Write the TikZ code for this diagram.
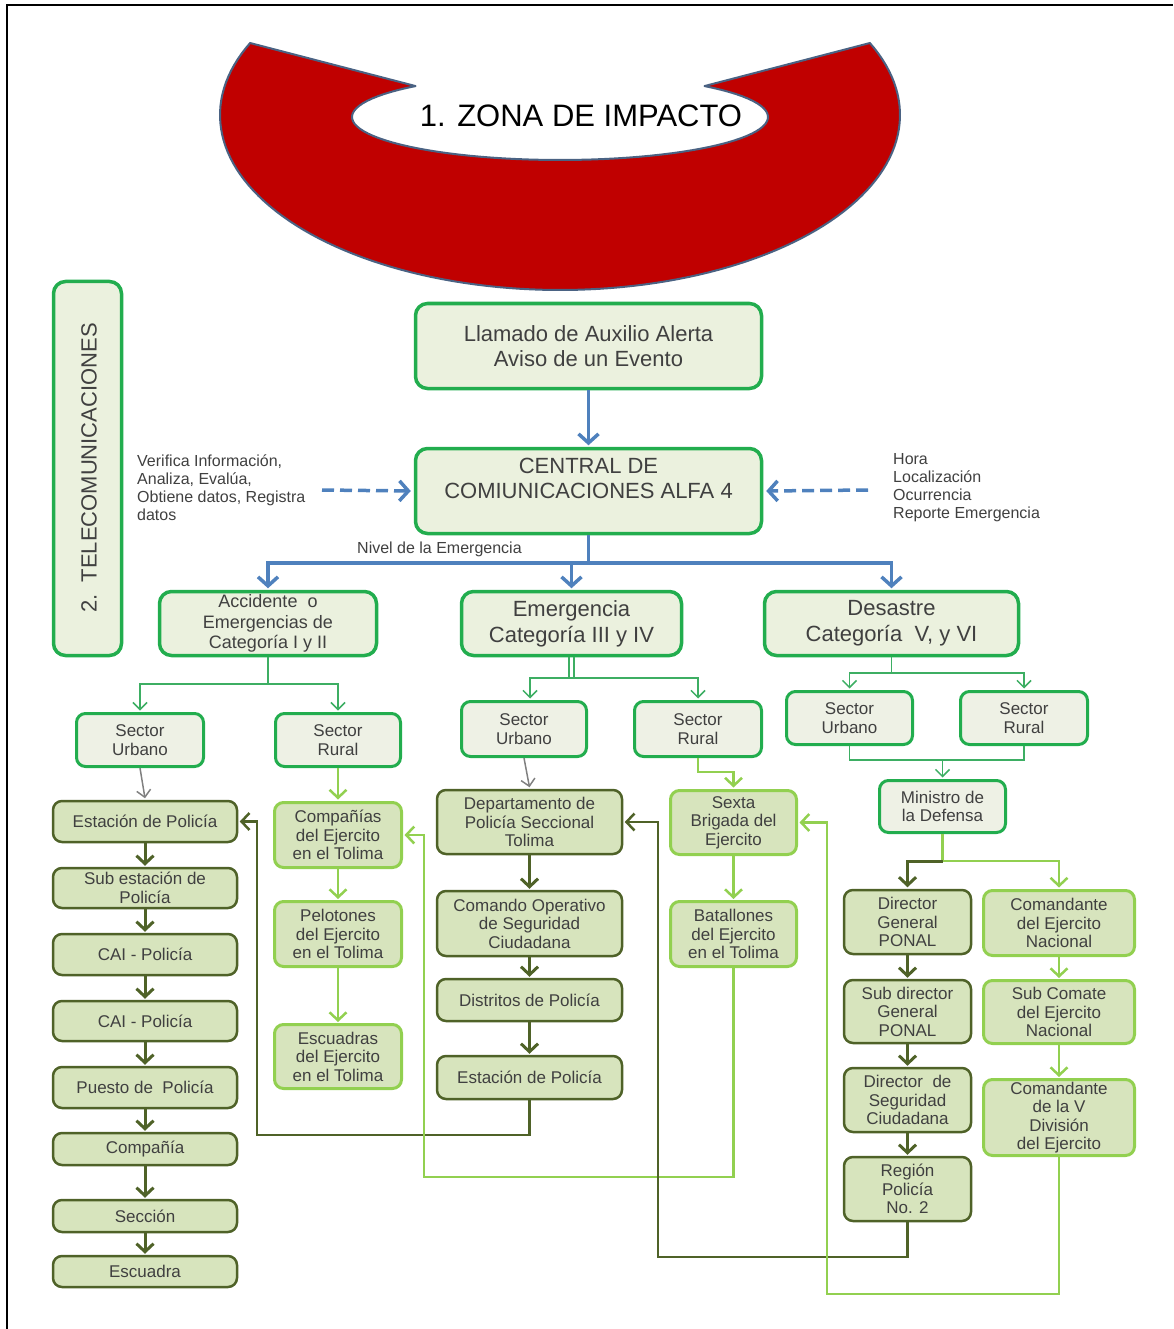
\documentclass[tikz,border=0pt]{standalone}
\usepackage{fontspec}
\setmainfont{Liberation Sans}
\usetikzlibrary{arrows.meta}
\definecolor{gmain}{HTML}{22AD4E}
\definecolor{sgreen}{HTML}{3DAE63}
\definecolor{fmain}{HTML}{EBF1DE}
\definecolor{fsec}{HTML}{EEF1E5}
\definecolor{oliv}{HTML}{4F6228}
\definecolor{lgreen}{HTML}{92D050}
\definecolor{fol}{HTML}{D7E4BD}
\definecolor{txt}{HTML}{404040}
\definecolor{blueA}{HTML}{4F81BD}
\definecolor{redA}{HTML}{C00000}
\definecolor{edgeA}{HTML}{4A6283}
\begin{document}
\begin{tikzpicture}[x=1pt,y=-1pt,
  base/.style={rounded corners=9pt, align=center, inner sep=0pt, text=txt,
    font=\fontsize{17}{18.5}\selectfont},
  gbox/.style={base, draw=gmain, line width=3.5pt, fill=fmain, rounded corners=12pt},
  sbox/.style={base, draw=gmain, line width=3pt, fill=fsec},
  obox/.style={base, draw=oliv, line width=2.5pt, fill=fol},
  lbox/.style={base, draw=lgreen, line width=3pt, fill=fol},
  side/.style={align=left, inner sep=0pt, text=txt, font=\fontsize{16}{18}\selectfont},
  barrow/.style={draw=blueA, line width=3.5pt, -{Straight Barb[length=9pt,width=20pt]}},
  bline/.style={draw=blueA, line width=3.5pt},
  bdash/.style={barrow, dash pattern=on 12pt off 6pt},
  sline/.style={draw=sgreen, line width=1.5pt},
  sarrow/.style={sline, -{Straight Barb[length=7pt,width=14pt]}},
  garrow/.style={draw=gray, line width=1.5pt, -{Straight Barb[length=7pt,width=14pt]}},
  oarrow/.style={draw=oliv, line width=3pt, -{Straight Barb[length=8pt,width=17pt]}},
  larrow/.style={draw=lgreen, line width=2.5pt, -{Straight Barb[length=8pt,width=17pt]}},
  lline/.style={draw=lgreen, line width=2.5pt},
  ofb/.style={draw=oliv, line width=2.5pt, -{Straight Barb[length=8pt,width=17pt]}},
  lfb/.style={draw=lgreen, line width=2.5pt, -{Straight Barb[length=8pt,width=17pt]}}
]
\useasboundingbox (0,0) rectangle (1173,1329);
\draw[line width=2pt] (7,1329) -- (7,5) -- (1173,5);

% red zone shape
\draw[fill=redA, draw=edgeA, line width=2pt, line join=round]
  (250,43) -- plot[domain=226:-46, samples=80] ({560+208*cos(\x)},{117+43*sin(\x)})
  -- (870,43) -- plot[domain=-24.3:204.3, samples=120] ({560+340*cos(\x)},{115+175*sin(\x)}) -- cycle;
\node[font=\fontsize{31}{34}\selectfont, text=black, inner sep=0pt] (zona) at (581,116) {1. ZONA DE IMPACTO};

% telecom
\node[gbox, minimum width=68, minimum height=374] (tele) at (87.5,468.5) {};
\node[rotate=90, text=txt, inner sep=0pt, font=\fontsize{22}{25}\selectfont] (teletxt) at (89,468) {2.\ \ TELECOMUNICACIONES};

% top boxes
\node[gbox, minimum width=346, minimum height=85, font=\fontsize{22}{25}\selectfont] (llam) at (588.5,346) {Llamado de Auxilio Alerta\\Aviso de un Evento};
\node[gbox, minimum width=346, minimum height=85, font=\fontsize{22}{25}\selectfont] (cent) at (588.5,491) {CENTRAL DE\\COMIUNICACIONES ALFA 4\\\mbox{}};

\node[side, anchor=west] (ltxt) at (137,488) {Verifica Información,\\Analiza, Evalúa,\\Obtiene datos, Registra\\datos};
\node[side, anchor=west] (rtxt) at (893,488) {Hora\\Localización\\Ocurrencia\\Reporte Emergencia};
\node[side, anchor=west] (niv) at (357,549) {Nivel de la Emergencia};

% level 2
\node[gbox, minimum width=217, minimum height=64, font=\fontsize{18}{20.5}\selectfont] (acc) at (268,623.5) {Accidente \ o\\Emergencias de\\Categoría I y II};
\node[gbox, minimum width=220, minimum height=64, font=\fontsize{22}{26}\selectfont] (em) at (571.5,623.5) {Emergencia\\Categoría III y IV};
\node[gbox, minimum width=254, minimum height=64, font=\fontsize{22}{26}\selectfont] (des) at (891.5,623.5) {Desastre\\Categoría \ V, y VI};

% sectors
\node[sbox, minimum width=127, minimum height=53] (lsu) at (140,740) {Sector\\Urbano};
\node[sbox, minimum width=125, minimum height=53] (lsr) at (338,740) {Sector\\Rural};
\node[sbox, minimum width=125, minimum height=55] (msu) at (524,729) {Sector\\Urbano};
\node[sbox, minimum width=127, minimum height=55] (msr) at (698,729) {Sector\\Rural};
\node[sbox, minimum width=126, minimum height=53] (rsu) at (849.5,718) {Sector\\Urbano};
\node[sbox, minimum width=127, minimum height=53] (rsr) at (1024,718) {Sector\\Rural};
\node[sbox, minimum width=126, minimum height=52] (mini) at (942.5,806.5) {Ministro de\\la Defensa};

% left police column
\node[obox, minimum width=184, minimum height=41] (e1) at (145,821.5) {Estación de Policía};
\node[obox, minimum width=184, minimum height=40] (e2) at (145,888) {Sub estación de\\Policía};
\node[obox, minimum width=184, minimum height=41] (e3) at (145,954.5) {CAI - Policía};
\node[obox, minimum width=184, minimum height=40] (e4) at (145,1021) {CAI - Policía};
\node[obox, minimum width=184, minimum height=41] (e5) at (145,1087.5) {Puesto de \ Policía};
\node[obox, minimum width=184, minimum height=32] (e6) at (145,1149) {Compañía};
\node[obox, minimum width=184, minimum height=32] (e7) at (145,1216) {Sección};
\node[obox, minimum width=184, minimum height=31] (e8) at (145,1271.5) {Escuadra};

% left army column
\node[lbox, minimum width=127, minimum height=65] (r1) at (338,835) {Compañías\\del Ejercito\\en el Tolima};
\node[lbox, minimum width=127, minimum height=65] (r2) at (338,934) {Pelotones\\del Ejercito\\en el Tolima};
\node[lbox, minimum width=127, minimum height=64] (r3) at (338,1056.5) {Escuadras\\del Ejercito\\en el Tolima};

% middle police column
\node[obox, minimum width=185, minimum height=64] (m1) at (529.5,822) {Departamento de\\Policía Seccional\\Tolima};
\node[obox, minimum width=185, minimum height=65] (m2) at (529.5,923.5) {Comando Operativo\\de Seguridad\\Ciudadana};
\node[obox, minimum width=185, minimum height=42] (m3) at (529.5,1000) {Distritos de Policía};
\node[obox, minimum width=185, minimum height=43] (m4) at (529.5,1077.5) {Estación de Policía};

% middle army column
\node[lbox, minimum width=126, minimum height=64] (s1) at (733.5,822.5) {Sexta\\Brigada del\\Ejercito};
\node[lbox, minimum width=126, minimum height=65] (s2) at (733.5,934) {Batallones\\del Ejercito\\en el Tolima};

% right police column
\node[obox, minimum width=127, minimum height=64] (p1) at (907.5,922) {Director\\General\\PONAL};
\node[obox, minimum width=127, minimum height=63] (p2) at (907.5,1011.5) {Sub director\\General\\PONAL};
\node[obox, minimum width=127, minimum height=64] (p3) at (907.5,1100) {Director \ de\\Seguridad\\Ciudadana};
\node[obox, minimum width=127, minimum height=64] (p4) at (907.5,1189) {Región\\Policía\\No. 2};

% right army column
\node[lbox, minimum width=151, minimum height=65] (a1) at (1059,923) {Comandante\\del Ejercito\\Nacional};
\node[lbox, minimum width=151, minimum height=63] (a2) at (1059,1012) {Sub Comate\\del Ejercito\\Nacional};
\node[lbox, minimum width=151, minimum height=76] (a3) at (1059,1117.5) {Comandante\\de la V\\División\\del Ejercito};

% blue connectors
\draw[barrow] (llam.south) -- ([yshift=1.5pt]cent.north);
\coordinate (ld) at (322,490);
\coordinate (rd) at (868,490);
\draw[bdash] (ld) -- ([xshift=-3pt]cent.west);
\draw[bdash] (rd) -- ([xshift=3pt]cent.east);
\coordinate (bj) at (588.5,563);
\draw[bline] (cent.south) -- (bj);
\draw[barrow] (bj) -| ([yshift=1.5pt]acc.north);
\draw[barrow] (bj) -| ([yshift=1.5pt]em.north);
\draw[barrow] (bj) -| ([yshift=1.5pt]des.north);

% sector splits
\coordinate (aj) at (268,684);
\draw[sline] (acc.south) -- (aj);
\draw[sarrow] (aj) -| ([yshift=1.5pt]lsu.north);
\draw[sarrow] (aj) -| ([yshift=1.5pt]lsr.north);
\draw[sline] ([xshift=-2.5pt]em.south) -- ++(0,21);
\draw[sline] ([xshift=2.5pt]em.south) -- ++(0,21);
\coordinate (ej) at (571.5,678);
\draw[sarrow] (ej) -| ([xshift=6pt,yshift=1.5pt]msu.north);
\draw[sarrow] (ej) -| ([yshift=1.5pt]msr.north);
\coordinate (dj) at (891.5,673);
\draw[sline] (des.south) -- (dj);
\draw[sarrow] (dj) -| ([yshift=1.5pt]rsu.north);
\draw[sarrow] (dj) -| ([yshift=1.5pt]rsr.north);
\coordinate (rj) at (942.5,760);
\draw[sline] (rsu.south) |- (rj);
\draw[sline] (rsr.south) |- (rj);
\draw[sarrow] (rj) -- ([yshift=1.5pt]mini.north);

% sector to columns
\draw[garrow] (lsu.south) -- ([yshift=1.5pt]e1.north);
\draw[larrow] (lsr.south) -- ([yshift=1.5pt]r1.north);
\draw[garrow] (msu.south) -- ([yshift=1.5pt]m1.north);
\draw[larrow] (msr.south) -- ++(0,14) -| ([yshift=1.5pt]s1.north);

% ministro split
\coordinate (mj) at (942.5,861);
\draw[lline] (mini.south) -- (mj);
\draw[oarrow] (mj) -| ([yshift=1.5pt]p1.north);
\draw[larrow] (mj) -| ([yshift=1.5pt]a1.north);

% column arrows
\draw[oarrow] (e1.south) -- ([yshift=1pt]e2.north);
\draw[oarrow] (e2.south) -- ([yshift=1pt]e3.north);
\draw[oarrow] (e3.south) -- ([yshift=1pt]e4.north);
\draw[oarrow] (e4.south) -- ([yshift=1pt]e5.north);
\draw[oarrow] (e5.south) -- ([yshift=1pt]e6.north);
\draw[oarrow] (e6.south) -- ([yshift=1pt]e7.north);
\draw[oarrow] (e7.south) -- ([yshift=1pt]e8.north);
\draw[larrow] (r1.south) -- ([yshift=1pt]r2.north);
\draw[larrow] (r2.south) -- ([yshift=1pt]r3.north);
\draw[oarrow] (m1.south) -- ([yshift=1pt]m2.north);
\draw[oarrow] (m2.south) -- ([yshift=1pt]m3.north);
\draw[oarrow] (m3.south) -- ([yshift=1pt]m4.north);
\draw[larrow] (s1.south) -- ([yshift=1pt]s2.north);
\draw[oarrow] (p1.south) -- ([yshift=1pt]p2.north);
\draw[oarrow] (p2.south) -- ([yshift=1pt]p3.north);
\draw[oarrow] (p3.south) -- ([yshift=1pt]p4.north);
\draw[larrow] (a1.south) -- ([yshift=1pt]a2.north);
\draw[larrow] (a2.south) -- ([yshift=1pt]a3.north);

% feedback lines
\coordinate (f1a) at (529.5,1135); \coordinate (f1b) at (257,1135);
\draw[ofb] (m4.south) -- (f1a) -- (f1b) |- ([xshift=1.5pt]e1.east);
\coordinate (f2a) at (733.5,1177); \coordinate (f2b) at (424,1177);
\draw[lfb] (s2.south) -- (f2a) -- (f2b) |- ([xshift=1.5pt]r1.east);
\coordinate (f3a) at (907.5,1257); \coordinate (f3b) at (658,1257);
\draw[ofb] (p4.south) -- (f3a) -- (f3b) |- ([xshift=1.5pt]m1.east);
\coordinate (f4a) at (1059,1294); \coordinate (f4b) at (827,1294);
\draw[lfb] (a3.south) -- (f4a) -- (f4b) |- ([xshift=1.5pt]s1.east);
\end{tikzpicture}
\end{document}
